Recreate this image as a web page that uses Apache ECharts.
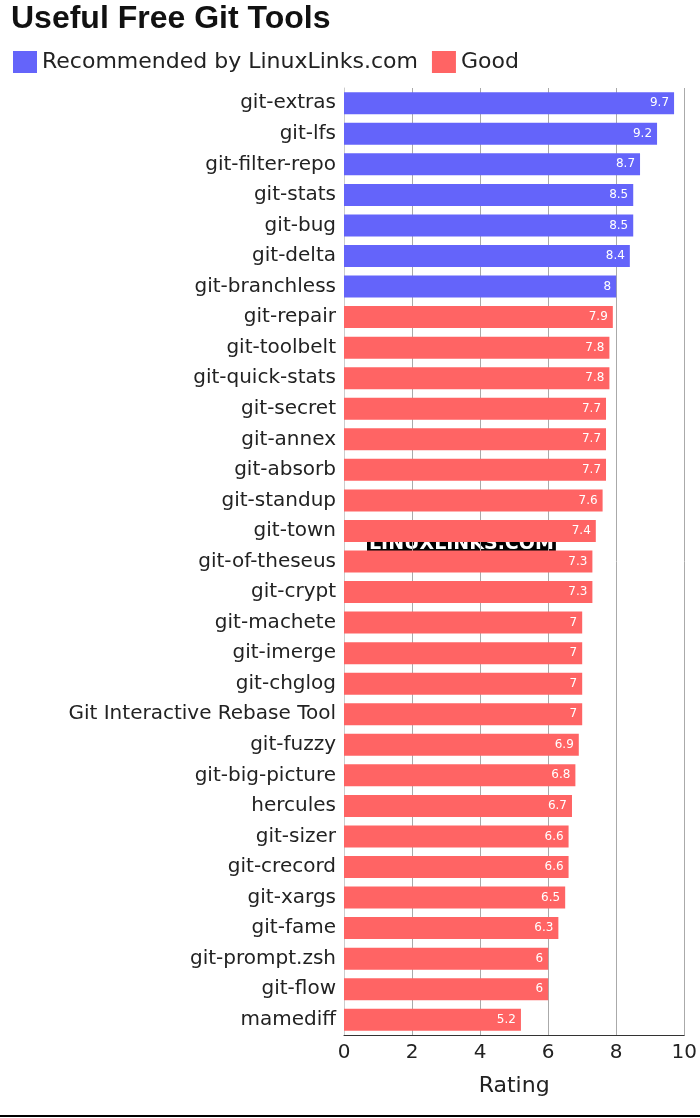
<!DOCTYPE html>
<html><head><meta charset="utf-8">
<script src="https://cdn.jsdelivr.net/npm/echarts@6/dist/echarts.min.js"></script>
<style>html,body{margin:0;padding:0;background:#fff}#c{width:700px;height:1118px}</style>
</head><body><div id="c"></div>
<script>
var tools = ['git-extras','git-lfs','git-filter-repo','git-stats','git-bug','git-delta','git-branchless',
  'git-repair','git-toolbelt','git-quick-stats','git-secret','git-annex','git-absorb','git-standup','git-town',
  'git-of-theseus','git-crypt','git-machete','git-imerge','git-chglog','Git Interactive Rebase Tool','git-fuzzy',
  'git-big-picture','hercules','git-sizer','git-crecord','git-xargs','git-fame','git-prompt.zsh','git-flow','mamediff'];
var ratings = [9.7,9.2,8.7,8.5,8.5,8.4,8,7.9,7.8,7.8,7.7,7.7,7.7,7.6,7.4,7.3,7.3,7,7,7,7,6.9,6.8,6.7,6.6,6.6,6.5,6.3,6,6,5.2];
var recommendedCount = 7;

var recData = ratings.map(function(v,i){return i<recommendedCount ? v : '-';});
var goodData = ratings.map(function(v,i){return i>=recommendedCount ? v : '-';});

var chart = echarts.init(document.getElementById('c'));
var lbl = {show:true, position:'insideRight', color:'#fff', fontSize:12, fontFamily:'DejaVu Sans'};
chart.setOption({
  animation:false,
  title:{text:'Useful Free Git Tools', left:6, top:-2, textStyle:{fontSize:32, fontWeight:'bold', color:'#111', fontFamily:'Liberation Sans'}},
  legend:{left:8, top:46, itemWidth:24, itemHeight:22, itemGap:14, icon:'rect',
    textStyle:{fontSize:22, color:'#222', fontFamily:'DejaVu Sans'}},
  grid:{left:344, right:15, top:88, bottom:83},
  xAxis:{type:'value', min:0, max:10, interval:2, name:'Rating', nameLocation:'middle', nameGap:40,
    nameTextStyle:{fontSize:22, color:'#222', fontFamily:'DejaVu Sans'},
    axisLabel:{fontSize:20, color:'#222', fontFamily:'DejaVu Sans'},
    axisLine:{show:true, lineStyle:{color:'#333'}},
    splitLine:{lineStyle:{color:'#aaa'}}},
  yAxis:{type:'category', data:tools, inverse:true,
    axisLabel:{fontSize:20, color:'#222', fontFamily:'DejaVu Sans', margin:8},
    axisTick:{show:false}, axisLine:{show:true, lineStyle:{color:'#ccc'}}},
  series:[
    {name:'Recommended by LinuxLinks.com', type:'bar', stack:'a', data:recData, barWidth:22,
      itemStyle:{color:'#6464fa'}, label:lbl},
    {name:'Good', type:'bar', stack:'a', data:goodData, barWidth:22,
      itemStyle:{color:'#ff6464'}, label:lbl}
  ],
  graphic:[
    {type:'text', left:367, top:534, style:{text:'LINUXLINKS.COM', fontSize:19, fontWeight:'bold',
      fontFamily:'DejaVu Sans', fill:'#fff', backgroundColor:'#000', padding:[1,2]}},
    {type:'rect', shape:{x:0, y:1115, width:700, height:2}, style:{fill:'#000'}}
  ]
});
</script></body></html>
